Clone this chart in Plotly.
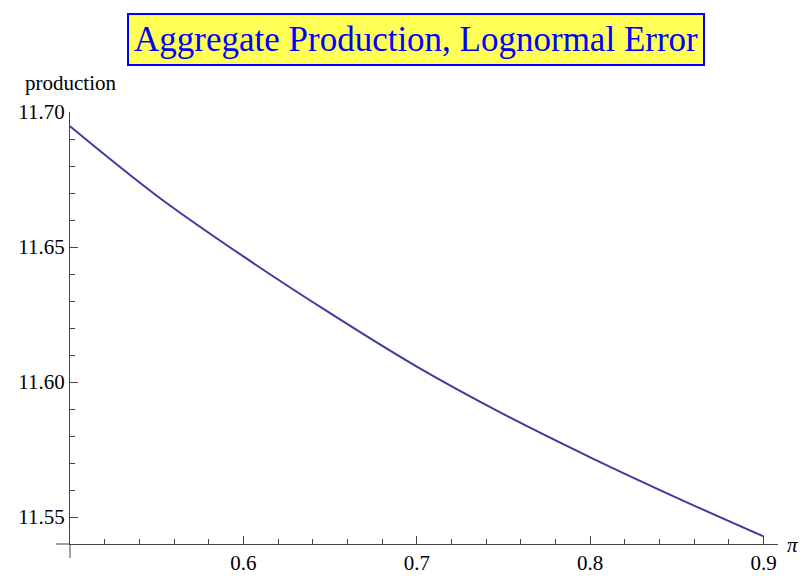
import plotly.graph_objects as go

# data
pi_vals = [0.50, 0.55, 0.60, 0.65, 0.70, 0.75, 0.80, 0.85, 0.90]
production = [11.6947, 11.6690, 11.6465, 11.6255, 11.6057, 11.5881, 11.5721, 11.5571, 11.5428]

x_tickvals = [0.6, 0.7, 0.8, 0.9]
y_tickvals = [11.55, 11.60, 11.65, 11.70]

title_text = "Aggregate Production, Lognormal Error"
x_label = "<i>π</i>"
y_label = "production"

FONT = "Liberation Serif, Times New Roman, serif"
AXIS_COLOR = "#444444"

fig = go.Figure()
fig.add_trace(go.Scatter(
    x=pi_vals, y=production, mode="lines",
    line=dict(color="#3d3d9c", width=2, shape="spline"),
    hoverinfo="skip", showlegend=False,
))

OFF = 8  # page body margin
W, H = 808 - OFF, 576 - OFF
L, R, T, B = 70 - OFF, 30, 112 - OFF, 32
pw, ph = W - L - R, H - T - B


def px(xpage):
    return (xpage - OFF - L) / pw


def py(ypage):
    return (H - B - (ypage - OFF)) / ph


fig.update_layout(
    width=W, height=H,
    margin=dict(l=L, r=R, t=T, b=B, autoexpand=False),
    paper_bgcolor="white", plot_bgcolor="white",
    font=dict(family=FONT, size=21, color="black"),
    xaxis=dict(
        range=[0.5, 0.9083], showgrid=False, zeroline=False,
        showline=True, linecolor=AXIS_COLOR, linewidth=1,
        tickvals=x_tickvals, ticktext=[f"{v:.1f}" for v in x_tickvals],
        ticks="inside", ticklen=8, tickcolor=AXIS_COLOR, tickwidth=1,
        minor=dict(tick0=0.5, dtick=0.02, ticks="inside", ticklen=5,
                   tickcolor=AXIS_COLOR, tickwidth=1, showgrid=False),
        tickfont=dict(family=FONT, size=21, color="black"),
        automargin=False,
    ),
    yaxis=dict(
        range=[11.54, 11.70], showgrid=False, zeroline=False,
        showline=True, linecolor=AXIS_COLOR, linewidth=1,
        tickvals=y_tickvals, ticktext=[f"{v:.2f}" for v in y_tickvals],
        ticks="inside", ticklen=8, tickcolor=AXIS_COLOR, tickwidth=1,
        minor=dict(tick0=11.54, dtick=0.01, ticks="inside", ticklen=5,
                   tickcolor=AXIS_COLOR, tickwidth=1, showgrid=False),
        tickfont=dict(family=FONT, size=21, color="black"),
        automargin=False,
    ),
    shapes=[
        dict(type="line", xref="paper", yref="paper",
             x0=-14 / pw, x1=0, y0=0, y1=0,
             line=dict(color=AXIS_COLOR, width=1)),
        dict(type="line", xref="paper", yref="paper",
             x0=0, x1=0, y0=-14 / ph, y1=0,
             line=dict(color=AXIS_COLOR, width=1)),
    ],
    annotations=[
        dict(text=title_text, xref="paper", yref="paper",
             x=px(416), y=py(40),
             xanchor="center", yanchor="middle", showarrow=False,
             font=dict(family=FONT, size=35, color="#0000ff"),
             bgcolor="#ffff55", bordercolor="#0000ff", borderwidth=2,
             borderpad=5),
        dict(text=y_label, xref="paper", yref="paper",
             x=px(70), y=py(83),
             xanchor="center", yanchor="middle", showarrow=False,
             font=dict(family=FONT, size=21, color="black")),
        dict(text=x_label, xref="paper", yref="paper",
             x=px(792), y=py(545),
             xanchor="center", yanchor="middle", showarrow=False,
             font=dict(family=FONT, size=21, color="black")),
    ],
)

fig.write_html("out.html")
